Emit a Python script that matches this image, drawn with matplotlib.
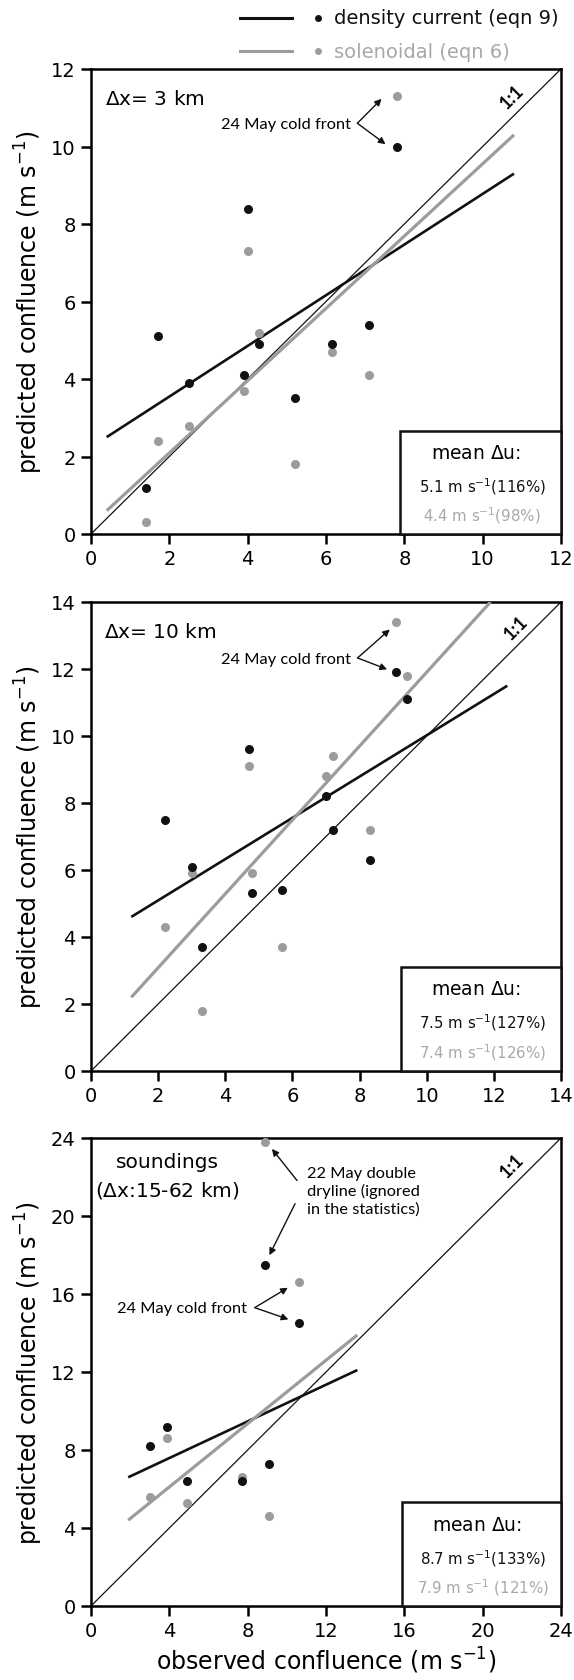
import matplotlib
matplotlib.use("Agg")
import matplotlib.pyplot as plt
from matplotlib.patches import Rectangle
from matplotlib.lines import Line2D

plt.rcParams['font.family'] = ['DejaVu Sans']
plt.rcParams['mathtext.default'] = 'regular'

# ---------------- data ----------------
# panel 1 (dx = 3 km)
obs1 = [1.4, 1.7, 2.5, 3.9, 4.0, 4.3, 5.2, 6.15, 7.1, 7.8]
dc1 = [1.2, 5.1, 3.9, 4.1, 8.4, 4.9, 3.5, 4.9, 5.4, 10.0]
sol1 = [0.3, 2.4, 2.8, 3.7, 7.3, 5.2, 1.8, 4.7, 4.1, 11.3]
fit_x1 = [0.4, 10.8]
fit_dc1 = [2.5, 9.3]
fit_sol1 = [0.6, 10.3]

# panel 2 (dx = 10 km)
obs2 = [2.2, 3.0, 3.3, 4.7, 4.8, 5.7, 7.0, 7.2, 8.3, 9.1, 9.4]
dc2 = [7.5, 6.1, 3.7, 9.6, 5.3, 5.4, 8.2, 7.2, 6.3, 11.9, 11.1]
sol2 = [4.3, 5.9, 1.8, 9.1, 5.9, 3.7, 8.8, 9.4, 7.2, 13.4, 11.8]
fit_x2_dc = [1.2, 12.4]
fit_dc2 = [4.6, 11.5]
fit_x2_sol = [1.2, 11.9]
fit_sol2 = [2.2, 14.0]

# panel 3 (soundings)
obs3 = [3.0, 3.9, 4.9, 7.7, 8.9, 9.1, 10.6]
dc3 = [8.2, 9.2, 6.4, 6.4, 17.5, 7.3, 14.5]
sol3 = [5.6, 8.6, 5.3, 6.6, 23.8, 4.6, 16.6]
fit_x3 = [1.9, 13.6]
fit_dc3 = [6.6, 12.1]
fit_sol3 = [4.4, 13.9]

axis_max = [12, 14, 24]
tick_step = [2, 2, 4]
stats_dc = [r'5.1 m s$^{-1}$(116%)', r'7.5 m s$^{-1}$(127%)', r'8.7 m s$^{-1}$(133%)']
stats_sol = [r'4.4 m s$^{-1}$(98%)', r'7.4 m s$^{-1}$(126%)', r'7.9 m s$^{-1}$ (121%)']

BLACK = '#111111'
GRAY = '#9c9c9c'
GRAYTXT = '#a8a8a8'

W, H = 574, 1681
fig = plt.figure(figsize=(W / 100, H / 100), dpi=100)


def px_axes(left, top, right, bottom):
    return fig.add_axes([left / W, 1 - bottom / H, (right - left) / W, (bottom - top) / H])


axes = [px_axes(91, 70, 561, 535), px_axes(91, 603, 561, 1072), px_axes(91, 1139, 561, 1607)]

panels = [
    (obs1, dc1, sol1, fit_x1, fit_dc1, fit_x1, fit_sol1),
    (obs2, dc2, sol2, fit_x2_dc, fit_dc2, fit_x2_sol, fit_sol2),
    (obs3, dc3, sol3, fit_x3, fit_dc3, fit_x3, fit_sol3),
]

for i, ax in enumerate(axes):
    obs, dc, sol, fxd, fyd, fxs, fys = panels[i]
    m = axis_max[i]
    ax.set_xlim(0, m)
    ax.set_ylim(0, m)
    ticks = list(range(0, m + 1, tick_step[i]))
    ax.set_xticks(ticks)
    ax.set_yticks(ticks)
    ax.tick_params(direction='out', length=7, width=1.8, labelsize=14, pad=4)
    for s in ax.spines.values():
        s.set_linewidth(1.8)
    # 1:1 line
    ax.plot([0, m], [0, m], color=BLACK, lw=0.9, zorder=2)
    # fits
    ax.plot(fxd, fyd, color=BLACK, lw=1.9, zorder=3, solid_capstyle='butt')
    ax.plot(fxs, fys, color=GRAY, lw=2.3, zorder=3, solid_capstyle='butt')
    # points
    ax.plot(obs, sol, 'o', color=GRAY, ms=6.5, mec='none', zorder=4, clip_on=False)
    ax.plot(obs, dc, 'o', color=BLACK, ms=6.5, mec='none', zorder=5, clip_on=False)
    ax.set_ylabel(r'predicted confluence (m s$^{-1}$)', fontsize=17, labelpad=4)

    # stats box
    bx0 = [7.9, 9.23, 15.9][i]
    bh = [2.67, 3.11, 5.32][i]
    ax.add_patch(Rectangle((bx0, 0), m - bx0, bh, fill=True, facecolor='white',
                           edgecolor=BLACK, lw=1.8, zorder=6, clip_on=False))
    cx = bx0 + (m - bx0) * 0.47
    ax.text(cx, bh * 0.79, r'mean $\Delta$u:', fontsize=13.5, ha='center', va='center', zorder=7)
    ax.text(cx + (m - bx0) * 0.04, bh * 0.47, stats_dc[i], fontsize=10.8, ha='center', va='center',
            color=BLACK, zorder=7)
    ax.text(cx + (m - bx0) * 0.04, bh * 0.19, stats_sol[i], fontsize=10.8, ha='center', va='center',
            color=GRAYTXT, zorder=7)

axes[2].set_xlabel(r'observed confluence (m s$^{-1}$)', fontsize=17, labelpad=3)

# 1:1 labels
for ax, (x, y) in zip(axes, [(10.75, 11.3), (12.65, 13.25), (21.5, 22.6)]):
    ax.text(x, y, '1:1', rotation=45, fontsize=13, ha='center', va='center',
            family='Lato', fontweight='bold', rotation_mode='anchor')

# panel labels
axes[0].text(0.35, 11.25, r'$\Delta$x= 3 km', fontsize=14.5, ha='left', va='center')
axes[1].text(0.38, 13.13, r'$\Delta$x= 10 km', fontsize=14.5, ha='left', va='center')
axes[2].text(3.9, 22.8, 'soundings', fontsize=14.5, ha='center', va='center')
axes[2].text(3.9, 21.35, r'($\Delta$x:15-62 km)', fontsize=14.5, ha='center', va='center')

arrow_kw = dict(arrowstyle='-|>', color=BLACK, lw=1.0, mutation_scale=10, shrinkA=0, shrinkB=0)


def cold_front(ax, tx, ty, vx, vy, up, down):
    ax.text(tx, ty, '24 May cold front', fontsize=11.8, family='Lato', ha='right', va='center')
    ax.annotate('', xy=up, xytext=(vx, vy), arrowprops=arrow_kw)
    ax.annotate('', xy=down, xytext=(vx, vy), arrowprops=arrow_kw)


cold_front(axes[0], 6.65, 10.58, 6.8, 10.6, (7.42, 11.23), (7.52, 10.06))
cold_front(axes[1], 7.75, 12.31, 7.94, 12.33, (8.9, 13.18), (8.82, 11.99))
cold_front(axes[2], 7.95, 15.3, 8.36, 15.3, (10.05, 16.32), (10.08, 14.7))

axes[2].text(11.04, 21.3, '22 May double\ndryline (ignored\nin the statistics)', fontsize=11.8,
             family='Lato', ha='left', va='center', linespacing=1.25)
axes[2].annotate('', xy=(9.24, 23.44), xytext=(10.52, 21.82), arrowprops=arrow_kw)
axes[2].annotate('', xy=(9.11, 17.99), xytext=(10.42, 20.63), arrowprops=arrow_kw)

# legend (figure pixel coordinates)
for y, col, lab, tcol in [(19, BLACK, 'density current (eqn 9)', BLACK),
                          (52, GRAY, 'solenoidal (eqn 6)', GRAYTXT)]:
    yf = 1 - y / H
    fig.add_artist(Line2D([240 / W, 292 / W], [yf, yf], color=col, lw=2.2, transform=fig.transFigure))
    fig.add_artist(Line2D([318 / W], [yf], marker='o', ms=5, color=col, mec='none', transform=fig.transFigure))
    fig.text(334 / W, yf, lab, fontsize=14, color=tcol, ha='left', va='center')

fig.savefig('out.png', dpi=100)
